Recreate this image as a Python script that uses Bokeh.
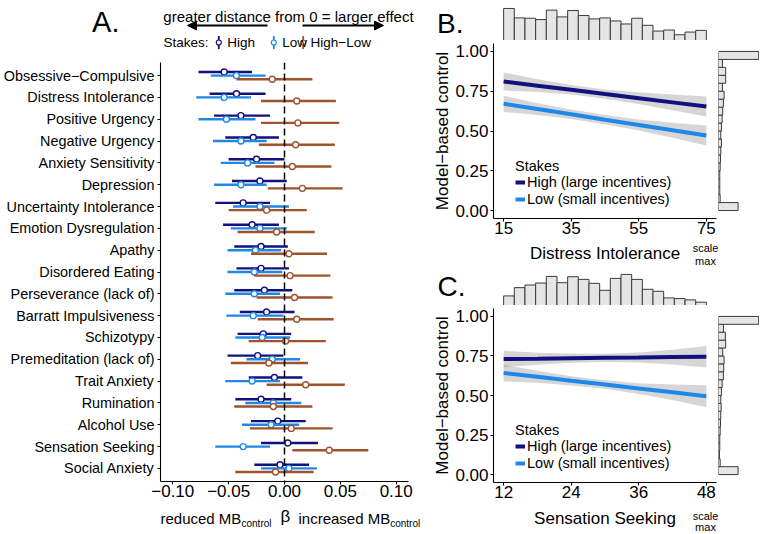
import numpy as np
from bokeh.plotting import figure
from bokeh.layouts import row, column
from bokeh.models import (Range1d, FixedTicker, Span, Arrow, NormalHead,
                          Legend, LegendItem, Spacer)
from bokeh.embed import file_html
from bokeh.resources import INLINE
from bokeh.core.properties import value

FONT = "Liberation Sans"
NAVY = "#10107e"
BLUE = "#1e88e8"
SIENNA = "#a0522d"
BAR_FILL = "#e5e5e5"
BAR_LINE = "#3a3a3a"

# ---------------- Panel A data ----------------
traits = ["Obsessive\u2212Compulsive", "Distress Intolerance", "Positive Urgency",
          "Negative Urgency", "Anxiety Sensitivity", "Depression",
          "Uncertainty Intolerance", "Emotion Dysregulation", "Apathy",
          "Disordered Eating", "Perseverance (lack of)", "Barratt Impulsiveness",
          "Schizotypy", "Premeditation (lack of)", "Trait Anxiety", "Rumination",
          "Alcohol Use", "Sensation Seeking", "Social Anxiety"]

high_est = [-0.054, -0.043, -0.039, -0.028, -0.025, -0.022, -0.037, -0.029, -0.021, -0.021,
            -0.018, -0.016, -0.019, -0.024, -0.009, -0.021, -0.006, 0.003, -0.004]
high_lo = [-0.077, -0.067, -0.063, -0.053, -0.050, -0.047, -0.062, -0.055, -0.045, -0.043,
           -0.045, -0.040, -0.042, -0.051, -0.032, -0.044, -0.030, -0.021, -0.027]
high_hi = [-0.029, -0.017, -0.013, -0.005, 0.000, 0.002, -0.013, -0.005, 0.003, 0.004,
           0.007, 0.009, 0.006, -0.001, 0.016, 0.006, 0.019, 0.030, 0.022]

low_est = [-0.043, -0.054, -0.052, -0.039, -0.033, -0.039, -0.022, -0.022, -0.026, -0.027,
           -0.027, -0.028, -0.020, -0.011, -0.029, -0.010, -0.012, -0.037, 0.004]
low_lo = [-0.066, -0.079, -0.077, -0.064, -0.057, -0.063, -0.046, -0.048, -0.051, -0.051,
          -0.053, -0.052, -0.044, -0.034, -0.053, -0.035, -0.038, -0.062, -0.021]
low_hi = [-0.017, -0.030, -0.026, -0.016, -0.009, -0.016, 0.004, 0.002, -0.003, -0.002,
          -0.004, -0.001, 0.005, 0.014, -0.004, 0.015, 0.013, -0.013, 0.029]

diff_est = [-0.011, 0.011, 0.012, 0.010, 0.007, 0.016, -0.016, -0.007, 0.004, 0.005,
            0.009, 0.011, 0.001, -0.014, 0.019, -0.010, 0.006, 0.040, -0.008]
diff_lo = [-0.043, -0.021, -0.021, -0.023, -0.026, -0.015, -0.050, -0.042, -0.030, -0.027,
           -0.025, -0.024, -0.032, -0.048, -0.016, -0.045, -0.031, 0.007, -0.044]
diff_hi = [0.025, 0.046, 0.049, 0.045, 0.042, 0.052, 0.020, 0.027, 0.038, 0.041,
           0.043, 0.044, 0.037, 0.021, 0.054, 0.025, 0.043, 0.075, 0.026]

beta_ticks = [-0.10, -0.05, 0.0, 0.05, 0.10]
beta_labels = ["\u22120.10", "\u22120.05", "0.00", "0.05", "0.10"]

# ---------------- Panel B data ----------------
di_x = [15, 25, 35, 45, 55, 65, 75]
b_high_fit = [0.811, 0.785, 0.759, 0.732, 0.706, 0.680, 0.654]
b_high_lo = [0.754, 0.745, 0.729, 0.703, 0.669, 0.631, 0.591]
b_high_hi = [0.868, 0.825, 0.789, 0.761, 0.743, 0.729, 0.717]
b_low_fit = [0.671, 0.638, 0.605, 0.571, 0.538, 0.505, 0.472]
b_low_lo = [0.620, 0.601, 0.575, 0.542, 0.503, 0.458, 0.409]
b_low_hi = [0.722, 0.675, 0.635, 0.600, 0.573, 0.552, 0.535]
di_counts = [95, 67, 66, 62, 90, 70, 89, 74, 64, 67, 58, 49, 66, 45, 28, 31, 17, 25, 30]
di_ticks = [15, 35, 55, 75]
mb_counts_b = [200, 17, 13, 13, 13, 17, 20, 23, 30, 23, 30, 37, 43, 50, 57, 40, 73, 73, 40, 410]

# ---------------- Panel C data ----------------
ss_x = [12, 18, 24, 30, 36, 42, 48]
c_high_fit = [0.731, 0.733, 0.736, 0.738, 0.740, 0.743, 0.745]
c_high_lo = [0.679, 0.695, 0.707, 0.712, 0.708, 0.696, 0.677]
c_high_hi = [0.783, 0.771, 0.765, 0.764, 0.772, 0.790, 0.813]
c_low_fit = [0.642, 0.618, 0.593, 0.569, 0.544, 0.520, 0.495]
c_low_lo = [0.589, 0.580, 0.564, 0.542, 0.510, 0.471, 0.425]
c_low_hi = [0.695, 0.656, 0.622, 0.596, 0.578, 0.569, 0.565]
ss_counts = [29, 54, 62, 68, 88, 69, 87, 79, 67, 46, 82, 94, 79, 49, 43, 23, 21, 17, 10]
ss_ticks = [12, 24, 36, 48]
mb_counts_c = [200, 17, 10, 13, 13, 17, 20, 23, 27, 23, 30, 37, 50, 53, 57, 43, 73, 70, 50, 410]

mb_ticks = [0.0, 0.25, 0.5, 0.75, 1.0]
mb_labels = ["0.00", "0.25", "0.50", "0.75", "1.00"]


def style(p, tick_fs="17px"):
    for ax in p.axis:
        ax.axis_line_color = "black"
        ax.axis_line_width = 1.1
        ax.major_tick_line_color = "black"
        ax.major_tick_line_width = 1.1
        ax.major_tick_out = 3
        ax.major_tick_in = 0
        ax.minor_tick_line_color = None
        ax.major_label_text_font = FONT
        ax.major_label_text_font_size = tick_fs
        ax.major_label_text_color = "black"
        ax.axis_label_text_font = FONT
        ax.axis_label_text_font_size = "17px"
        ax.axis_label_text_font_style = "normal"
        ax.axis_label_text_color = "black"
    p.grid.visible = False
    p.outline_line_color = None


def letter_axis(p, y, letter, standoff, fs):
    ax = p.yaxis[0]
    ax.ticker = FixedTicker(ticks=[y])
    ax.major_label_overrides = {y: letter}
    ax.axis_line_color = None
    ax.major_tick_line_color = None
    ax.minor_tick_line_color = None
    ax.major_tick_out = 0
    ax.major_tick_in = 0
    ax.major_label_standoff = standoff
    ax.major_label_text_font = FONT
    ax.major_label_text_font_size = fs
    ax.major_label_text_color = "black"


def txt(p, x, y, s, fs, align="left", baseline="middle"):
    p.text(x=[x], y=[y], text=[s], text_font=value(FONT), text_font_size=fs,
           text_align=align, text_baseline=baseline, text_color="black")


def blank(fig):
    fig.grid.visible = False
    fig.outline_line_color = None


A_LEFT, A_FRAME = 160, 260

# ================= Panel A header =================
hdr = figure(frame_width=A_FRAME, frame_height=62, min_border_left=A_LEFT, min_border_right=0,
             min_border_top=0, min_border_bottom=0,
             x_range=Range1d(A_LEFT, A_LEFT + A_FRAME), y_range=Range1d(62, 0),
             x_axis_location=None, y_axis_location="left",
             toolbar_location=None, output_backend="svg")
blank(hdr)
letter_axis(hdr, 21, "A.", 41, "29px")
txt(hdr, 288, 15.5, "greater distance from 0 = larger effect", "15px", "center", "alphabetic")
for xs_, xe_ in [(267, 187), (302, 383)]:
    hdr.add_layout(Arrow(end=NormalHead(size=9, fill_color="black", line_color="black"),
                         x_start=xs_, y_start=25, x_end=xe_, y_end=25,
                         line_width=2, line_color="black"))
txt(hdr, 163, 42, "Stakes:", "13.5px")
icon_x = [218.3, 273.3, 302.7]
icon_c = [NAVY, BLUE, SIENNA]
hdr.segment(x0=icon_x, y0=[35.5] * 3, x1=icon_x, y1=[48.5] * 3, line_color=icon_c, line_width=1.8)
hdr.scatter(x=icon_x, y=[42] * 3, marker="circle", size=5, fill_color="white",
            line_color=icon_c, line_width=1.2)
for xx, s in zip([226.7, 281.7, 310], ["High", "Low", "High\u2212Low"]):
    txt(hdr, xx, 42, s, "13.5px")

# ================= Panel A main =================
n = len(traits)
ypos = np.arange(n, 0, -1, dtype=float)
dodge = 1.0 / 6.0
px_per_beta = 248 / 0.222
pA = figure(frame_width=A_FRAME, frame_height=419, min_border_left=A_LEFT, min_border_right=0,
            min_border_top=0, min_border_bottom=23,
            x_range=Range1d(-0.111, 0.111 + 12 / px_per_beta), y_range=Range1d(0.4, n + 0.6),
            toolbar_location=None, output_backend="svg")
for lo, hi, est, off, col in [(high_lo, high_hi, high_est, dodge, NAVY),
                              (low_lo, low_hi, low_est, 0.0, BLUE),
                              (diff_lo, diff_hi, diff_est, -dodge, SIENNA)]:
    yy = ypos + off
    pA.segment(x0=lo, y0=yy, x1=hi, y1=yy, line_color=col, line_width=2.4)
    pA.scatter(x=est, y=yy, marker="circle", size=6, fill_color="white",
               line_color=col, line_width=1.4)
pA.add_layout(Span(location=0, dimension="height", line_color="black",
                   line_width=1.5, line_dash="7 4"))
style(pA)
pA.xaxis.bounds = (-0.111, 0.111)
pA.xaxis.ticker = FixedTicker(ticks=beta_ticks)
pA.xaxis.major_label_overrides = dict(zip(beta_ticks, beta_labels))
pA.xaxis.major_label_standoff = 0
pA.yaxis.ticker = FixedTicker(ticks=list(ypos))
pA.yaxis.major_label_overrides = dict(zip(list(ypos), traits))
pA.yaxis.major_label_text_font_size = "14.4px"
pA.yaxis.major_label_standoff = 3

# ================= Panel A footer =================
ftA = figure(frame_width=A_FRAME, frame_height=28, min_border_left=A_LEFT, min_border_right=0,
             min_border_top=0, min_border_bottom=0,
             x_range=Range1d(A_LEFT, A_LEFT + A_FRAME), y_range=Range1d(28, 0),
             x_axis_location=None, y_axis_location=None,
             toolbar_location=None, output_backend="svg")
blank(ftA)
txt(ftA, 160, 14, "reduced MB", "15px")
txt(ftA, 241, 18.5, "control", "10px")
txt(ftA, 285, 11.5, "\u03b2", "17px", "center")
txt(ftA, 298, 14, "increased MB", "15px")
txt(ftA, 389.7, 18.5, "control", "10px")


# ================= Panels B and C =================
B_LEFT, B_FRAME = 73, 225


def panel(letter, xlo, xhi, xticks, xlab, xs, hfit, hlo, hhi, lfit, llo, lhi,
          top_counts, bin_lo, bin_hi, side_counts, t_top, top_h, mb_top, frame_h,
          foot_h, foot_y, letter_px, letter_standoff):
    px_per_x = 223 / (xhi - xlo)
    xr = Range1d(xlo, xhi + 2 / px_per_x)
    yr = Range1d(-0.05, 1.05)
    ytop = max(top_counts) * 1.03
    # top marginal histogram
    t = figure(frame_width=B_FRAME, frame_height=top_h, min_border_left=B_LEFT, min_border_right=0,
               min_border_top=t_top, min_border_bottom=0, x_range=xr,
               y_range=Range1d(0, ytop), x_axis_location=None, y_axis_location="left",
               toolbar_location=None, output_backend="svg")
    blank(t)
    edges = np.linspace(bin_lo, bin_hi, len(top_counts) + 1)
    t.quad(left=edges[:-1], right=edges[1:], bottom=0, top=top_counts,
           fill_color=BAR_FILL, line_color=BAR_LINE, line_width=1)
    letter_axis(t, ytop * letter_px / top_h, letter, letter_standoff, "28px")
    # main
    p = figure(frame_width=B_FRAME, frame_height=frame_h, min_border_left=B_LEFT, min_border_right=0,
               min_border_top=mb_top, min_border_bottom=23, x_range=xr, y_range=yr,
               toolbar_location=None, output_backend="svg")
    p.varea(x=xs, y1=hlo, y2=hhi, fill_color="#999999", fill_alpha=0.4)
    p.varea(x=xs, y1=llo, y2=lhi, fill_color="#999999", fill_alpha=0.4)
    rh = p.line(x=xs, y=hfit, line_color=NAVY, line_width=4)
    rl = p.line(x=xs, y=lfit, line_color=BLUE, line_width=4)
    style(p)
    p.xaxis.bounds = (xlo, xhi)
    p.xaxis.ticker = FixedTicker(ticks=xticks)
    p.xaxis.major_label_standoff = 0
    p.yaxis.ticker = FixedTicker(ticks=mb_ticks)
    p.yaxis.major_label_overrides = dict(zip(mb_ticks, mb_labels))
    p.yaxis.major_label_standoff = 2
    p.yaxis.axis_label = "Model\u2212based control"
    p.yaxis.axis_label_standoff = 0
    leg = Legend(items=[LegendItem(label="High (large incentives)", renderers=[rh]),
                        LegendItem(label="Low (small incentives)", renderers=[rl])],
                 title="Stakes", location=(19, 8), orientation="vertical",
                 label_text_font=FONT, label_text_font_size="14.5px", label_text_color="black",
                 title_text_font=FONT, title_text_font_size="14.5px", title_text_color="black",
                 title_text_font_style="normal", background_fill_alpha=0,
                 border_line_alpha=0, padding=3, spacing=1, margin=0,
                 glyph_width=10, glyph_height=16, label_height=16,
                 label_standoff=2, title_standoff=0)
    p.add_layout(leg)
    # footer below main: x title and "scale max"
    f = figure(frame_width=B_FRAME, frame_height=foot_h, min_border_left=B_LEFT, min_border_right=0,
               min_border_top=0, min_border_bottom=0, x_range=xr,
               y_range=Range1d(foot_h, 0), x_axis_location=None, y_axis_location=None,
               toolbar_location=None, output_backend="svg")
    blank(f)
    txt(f, (xlo + xhi) / 2, foot_y[0], xlab, "17px", "center")
    sx = xr.end - 13 / px_per_x
    txt(f, sx, foot_y[1], "scale", "11px", "center")
    txt(f, sx, foot_y[2], "max", "11px", "center")
    # side marginal histogram
    r = figure(frame_width=41, frame_height=frame_h, min_border=0,
               x_range=Range1d(0, max(side_counts) * 1.02), y_range=yr,
               x_axis_location=None, y_axis_location=None,
               toolbar_location=None, output_backend="svg")
    blank(r)
    medges = np.linspace(0.0, 1.0, len(side_counts) + 1)
    r.quad(left=0, right=side_counts, bottom=medges[:-1], top=medges[1:],
           fill_color=BAR_FILL, line_color=BAR_LINE, line_width=1)
    return row(column(t, p, f, spacing=0),
               column(Spacer(width=41, height=t_top + top_h + mb_top), r, spacing=0), spacing=0)


panelB = panel("B.", 12, 78, di_ticks, "Distress Intolerance", di_x,
               b_high_fit, b_high_lo, b_high_hi, b_low_fit, b_low_lo, b_low_hi,
               di_counts, 15, 75, mb_counts_b, 7, 33, 3, 175, 28, [12, 6, 19], 17.5, 30)
panelC = panel("C.", 10.2, 49.8, ss_ticks, "Sensation Seeking", ss_x,
               c_high_fit, c_high_lo, c_high_hi, c_low_fit, c_low_lo, c_low_hi,
               ss_counts, 12, 48, mb_counts_c, 4, 32, 3, 174, 27, [13, 10, 21.5], 19, 28)

layout = row(column(hdr, pA, ftA, spacing=0), column(panelB, panelC, spacing=0), spacing=0)

with open("out.html", "w") as f:
    f.write(file_html(layout, INLINE))
